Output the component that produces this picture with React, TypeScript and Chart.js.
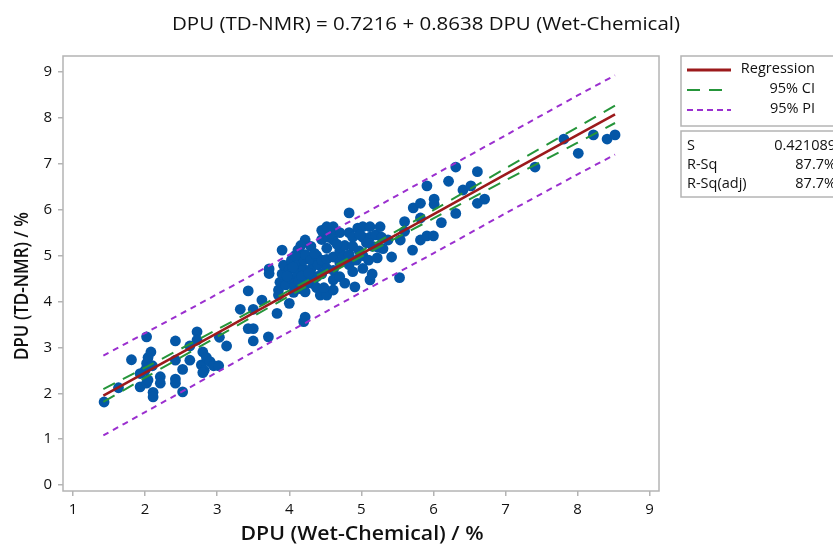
import React, { useEffect, useRef } from "react";
import { Chart, registerables } from "chart.js";

Chart.register(...registerables);

const wetChemical = [
  1.43, 1.63, 1.81, 1.93, 1.93, 2.02, 2.02, 2.04, 2.08, 2.1, 2.02, 2.04, 2.11, 2.11, 2.0, 2.21, 2.21,
  2.42, 2.42, 2.42, 2.42, 2.52, 2.52, 2.62, 2.62, 2.72, 2.72, 2.8, 2.78, 2.85, 2.82, 2.8, 2.9, 2.95,
  3.03, 3.13, 3.02,
  3.32, 3.43, 3.5, 3.62, 3.43, 3.5, 3.5, 3.71, 3.72, 3.72, 3.83,
  3.85, 3.85, 3.87, 3.9, 3.92, 3.9, 3.95, 4.0, 4.02, 4.0, 4.03, 4.06, 4.07,
  4.12, 4.12, 4.12, 4.12, 4.13, 4.15,
  4.22, 4.22, 4.2, 4.22, 4.2, 4.2, 4.22,
  4.3, 4.3, 4.3, 4.33, 4.3,
  4.38, 4.38, 4.4, 4.38,
  4.45, 4.43, 4.45, 4.45, 4.45,
  4.52, 4.52, 4.52, 4.52, 4.52, 4.54,
  4.61, 4.61, 4.61, 4.61, 4.61, 4.61,
  4.7, 4.7, 4.7, 4.7,
  4.75, 4.77, 4.77,
  4.83, 4.83, 4.83, 4.83,
  4.88, 4.88, 4.88,
  4.91, 4.93, 4.95, 4.97,
  5.02, 5.02, 5.02, 5.02,
  5.12, 5.12, 5.12, 5.1, 5.15, 5.16, 5.2, 5.22, 5.24, 5.26, 5.28,
  5.37, 5.42, 5.53, 5.54, 5.6, 5.6, 5.71, 5.72, 5.82, 5.82, 5.82, 5.91, 6.0, 5.91, 6.01, 6.01,
  6.11, 6.31, 6.21, 6.31, 6.41, 6.52, 6.61, 6.61, 6.71,
  7.41, 7.81, 8.01, 8.22, 8.41, 8.52,
  4.08, 4.17, 4.25, 4.35, 4.27, 4.16, 4.66, 4.57, 5.07, 4.98, 5.3, 4.48, 4.05, 3.97,
];

const tdNmr = [
  1.81, 2.12, 2.73, 2.43, 2.14, 3.23, 2.65, 2.78, 2.9, 2.6, 2.22, 2.29, 2.02, 1.92, 2.5, 2.36, 2.22,
  3.14, 2.72, 2.31, 2.22, 2.52, 2.03, 2.72, 3.03, 3.34, 3.16, 2.9, 2.62, 2.78, 2.5, 2.45, 2.69, 2.6,
  3.22, 3.03, 2.6,
  3.83, 4.23, 3.83, 4.03, 3.41, 3.41, 3.14, 3.23, 4.71, 4.61, 3.74,
  4.25, 4.14, 4.42, 4.6, 4.79, 5.12, 4.36, 3.96, 4.5, 4.7, 4.9, 4.2, 4.32,
  5.12, 4.95, 4.8, 4.6, 4.45, 4.28,
  5.34, 4.21, 3.56, 3.66, 4.7, 4.9, 5.02,
  4.9, 4.7, 4.5, 4.39, 5.2,
  4.54, 4.3, 4.8, 5.0,
  5.35, 4.14, 4.6, 4.9, 5.55,
  5.63, 5.16, 4.92, 4.72, 4.14, 5.4,
  5.63, 5.34, 4.97, 4.68, 4.47, 4.25,
  4.54, 5.5, 5.1, 4.85,
  4.97, 5.22, 4.4,
  5.93, 5.5, 5.02, 4.8,
  5.4, 5.2, 4.65,
  4.32, 4.9, 5.6, 5.1,
  5.63, 5.4, 5.0, 4.72,
  5.63, 5.4, 4.47, 4.9, 4.6, 5.2, 5.45, 4.95, 5.18, 5.63, 5.4,
  5.34, 4.97, 4.52, 5.34, 5.74, 5.53, 5.12, 6.04, 6.14, 5.82, 5.34, 5.43, 5.43, 6.52, 6.23, 6.12,
  5.72, 5.92, 6.62, 6.93, 6.43, 6.52, 6.83, 6.14, 6.23,
  6.93, 7.54, 7.23, 7.63, 7.54, 7.63,
  5.0, 4.55, 4.4, 5.05, 4.62, 5.22, 5.25, 5.48, 5.28, 5.45, 5.15, 4.3, 4.75, 4.55,
];

const fitX = [1.42, 2, 3, 4, 4.5, 5, 6, 7, 8, 8.52];
const regressionY = [1.95, 2.45, 3.31, 4.18, 4.61, 5.04, 5.9, 6.77, 7.63, 8.08];
const ciUpper = [2.09, 2.56, 3.39, 4.24, 4.665, 5.1, 5.99, 6.9, 7.8, 8.27];
const ciLower = [1.81, 2.34, 3.23, 4.12, 4.555, 4.98, 5.81, 6.64, 7.46, 7.89];
const piUpper = [2.82, 3.31, 4.16, 5.02, 5.45, 5.88, 6.75, 7.62, 8.49, 8.93];
const piLower = [1.08, 1.59, 2.46, 3.34, 3.77, 4.2, 5.05, 5.92, 6.77, 7.2];

const xTickValues = [1, 2, 3, 4, 5, 6, 7, 8, 9];
const yTickValues = [0, 1, 2, 3, 4, 5, 6, 7, 8, 9];

const titleText = "DPU (TD-NMR) = 0.7216 + 0.8638 DPU (Wet-Chemical)";
const xAxisTitle = "DPU (Wet-Chemical) / %";
const yAxisTitle = "DPU (TD-NMR) / %";
const legendLabels = ["Regression", "95% CI", "95% PI"];
const statLabels = ["S", "R-Sq", "R-Sq(adj)"];
const statValues = ["0.421089", "87.7%", "87.7%"];

const FONT = '"Open Sans", "Noto Sans", sans-serif';
const POINT_COLOR = "#0457A7";
const REG_COLOR = "#9C1A1C";
const CI_COLOR = "#25953A";
const PI_COLOR = "#9B2FCF";
const FRAME_COLOR = "#B4B4B4";

const toPairs = (xs: number[], ys: number[]) => xs.map((x, i) => ({ x, y: ys[i] }));

// draw text fitted to a target width (horizontal scale only, keeps height)
function fitText(
  ctx: CanvasRenderingContext2D,
  text: string,
  cx: number,
  cy: number,
  width: number,
  font: string,
  rotate = false
) {
  ctx.save();
  ctx.font = font;
  const w = ctx.measureText(text).width;
  const sx = width / w;
  ctx.translate(cx, cy);
  if (rotate) ctx.rotate(-Math.PI / 2);
  ctx.scale(sx, 1);
  ctx.textAlign = "center";
  ctx.textBaseline = "middle";
  ctx.fillText(text, 0, 0);
  ctx.restore();
}

const decorPlugin = {
  id: "decor",
  afterDraw(chart: any) {
    const ctx = chart.ctx as CanvasRenderingContext2D;
    const a = chart.chartArea;
    ctx.save();
    ctx.strokeStyle = FRAME_COLOR;
    ctx.lineWidth = 1.5;
    ctx.strokeRect(a.left, a.top, a.right - a.left, a.bottom - a.top);

    ctx.fillStyle = "#111";
    fitText(ctx, titleText, 426, 25, 508, `19px ${FONT}`);
    fitText(ctx, xAxisTitle, 362, 534, 243, `600 20px ${FONT}`);
    fitText(ctx, yAxisTitle, 22, 286, 148, `600 20px ${FONT}`, true);

    ctx.strokeStyle = FRAME_COLOR;
    ctx.lineWidth = 1.5;
    ctx.strokeRect(681, 56, 170, 70);
    ctx.strokeRect(681, 131, 170, 66);

    const rows = [70, 90, 110];
    const styles = [
      { color: REG_COLOR, dash: [] as number[], width: 3 },
      { color: CI_COLOR, dash: [13, 9], width: 2 },
      { color: PI_COLOR, dash: [6, 4], width: 2 },
    ];
    styles.forEach((s, i) => {
      ctx.beginPath();
      ctx.setLineDash(s.dash);
      ctx.strokeStyle = s.color;
      ctx.lineWidth = s.width;
      ctx.moveTo(687, rows[i]);
      ctx.lineTo(i === 1 ? 727 : 731, rows[i]);
      ctx.stroke();
    });
    ctx.setLineDash([]);
    ctx.fillStyle = "#111";
    ctx.font = `14.5px ${FONT}`;
    ctx.textAlign = "right";
    ctx.textBaseline = "middle";
    legendLabels.forEach((t, i) => ctx.fillText(t, 815, rows[i] - 1));

    const srows = [146, 165, 184];
    statLabels.forEach((t, i) => {
      ctx.textAlign = "left";
      ctx.fillText(t, 687, srows[i]);
      ctx.textAlign = "right";
      ctx.fillText(statValues[i], 836, srows[i]);
    });
    ctx.restore();
  },
};

export default function App() {
  const ref = useRef<HTMLCanvasElement | null>(null);
  useEffect(() => {
    if (!ref.current) return;
    const chart = new Chart(ref.current, {
      type: "scatter",
      data: {
        datasets: [
          {
            label: "Regression",
            data: toPairs(fitX, regressionY),
            showLine: true,
            borderColor: REG_COLOR,
            borderWidth: 2.6,
            pointRadius: 0,
            order: 1,
          },
          {
            label: "95% CI upper",
            data: toPairs(fitX, ciUpper),
            showLine: true,
            borderColor: CI_COLOR,
            borderWidth: 2,
            borderDash: [13, 9],
            pointRadius: 0,
            tension: 0.3,
            order: 2,
          },
          {
            label: "95% CI lower",
            data: toPairs(fitX, ciLower),
            showLine: true,
            borderColor: CI_COLOR,
            borderWidth: 2,
            borderDash: [13, 9],
            pointRadius: 0,
            tension: 0.3,
            order: 2,
          },
          {
            label: "95% PI upper",
            data: toPairs(fitX, piUpper),
            showLine: true,
            borderColor: PI_COLOR,
            borderWidth: 2,
            borderDash: [6, 5],
            pointRadius: 0,
            tension: 0.3,
            order: 3,
          },
          {
            label: "95% PI lower",
            data: toPairs(fitX, piLower),
            showLine: true,
            borderColor: PI_COLOR,
            borderWidth: 2,
            borderDash: [6, 5],
            pointRadius: 0,
            tension: 0.3,
            order: 3,
          },
          {
            label: "Data",
            data: toPairs(wetChemical, tdNmr),
            backgroundColor: POINT_COLOR,
            borderColor: POINT_COLOR,
            borderWidth: 0,
            pointRadius: 5.4,
            order: 10,
          },
        ],
      },
      options: {
        animation: false,
        responsive: false,
        devicePixelRatio: 1,
        layout: { padding: { top: 56, right: 174, left: 0, bottom: 0 } },
        plugins: { legend: { display: false }, tooltip: { enabled: false }, title: { display: false } },
        scales: {
          x: {
            type: "linear",
            min: 0.86,
            max: 9.13,
            afterBuildTicks: (s: any) => {
              s.ticks = xTickValues.map((v) => ({ value: v }));
            },
            afterFit: (s: any) => {
              s.height = 54;
            },
            grid: { drawOnChartArea: false, drawTicks: true, tickLength: 5, color: FRAME_COLOR, lineWidth: 1.5 },
            border: { display: false },
            ticks: { color: "#111", font: { family: FONT, size: 15 }, padding: 5, maxRotation: 0 },
          },
          y: {
            type: "linear",
            min: -0.13,
            max: 9.35,
            afterBuildTicks: (s: any) => {
              s.ticks = yTickValues.map((v) => ({ value: v }));
            },
            afterFit: (s: any) => {
              s.width = 63;
            },
            grid: { drawOnChartArea: false, drawTicks: true, tickLength: 5, color: FRAME_COLOR, lineWidth: 1.5 },
            border: { display: false },
            ticks: { color: "#111", font: { family: FONT, size: 15 }, padding: 6 },
          },
        },
      },
      plugins: [decorPlugin],
    } as any);
    return () => chart.destroy();
  }, []);

  return (
    <div style={{ position: "fixed", left: 0, top: 0, width: 833, height: 545, background: "#fff" }}>
      <canvas ref={ref} width={833} height={545} style={{ width: 833, height: 545, display: "block" }} />
    </div>
  );
}
